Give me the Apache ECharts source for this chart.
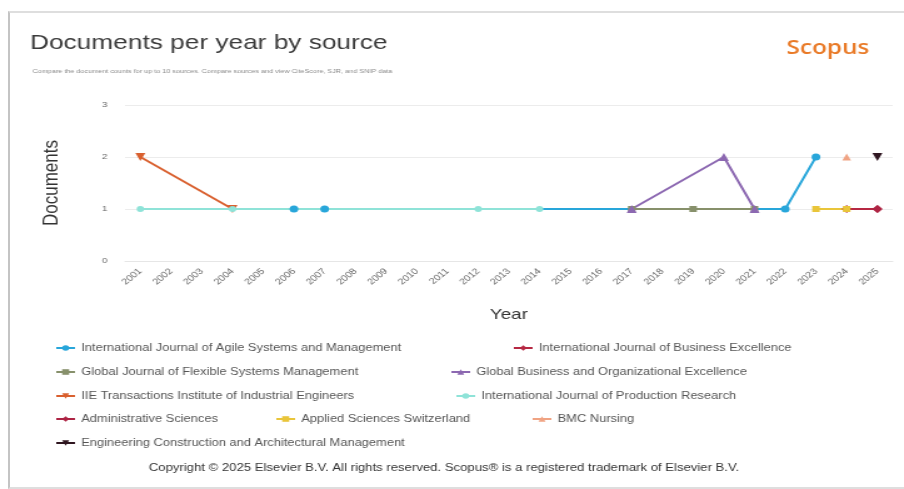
<!DOCTYPE html>
<html>
<head>
<meta charset="utf-8">
<script src="https://cdn.jsdelivr.net/npm/echarts@6/dist/echarts.min.js"></script>
<style>
  html, body { margin: 0; padding: 0; background: #ffffff; overflow: hidden; }
  #frame {
    position: absolute; left: 8px; top: 11px; width: 1000px; height: 474px;
    border-left: 2px solid #c4c4c4; border-top: 2px solid #dedede; border-bottom: 2px solid #dedede;
  }
  #chart {
    position: absolute; left: 0; top: 0; width: 723px; height: 489px;
    transform: scaleX(1.2503); transform-origin: 0 0;
  }
</style>
</head>
<body>
<div id="frame"></div>
<div id="chart"></div>
<script>
// Publication years on the category axis
const years = ['2001', '2002', '2003', '2004', '2005', '2006', '2007', '2008', '2009', '2010',
  '2011', '2012', '2013', '2014', '2015', '2016', '2017', '2018', '2019', '2020',
  '2021', '2022', '2023', '2024', '2025'];
const yTicks = [0, 1, 2, 3];

const _ = null;
// Documents per year for each source (null = no documents that year)
const agileSystems        = [_, _, _, _, _, 1, 1, _, _, _, _, _, _, _, _, _, _, _, _, _, _, 1, 2, _, _];
const businessExcellence  = [_, _, _, _, _, _, _, _, _, _, _, _, _, _, _, _, _, _, _, _, _, _, _, 1, 1];
const flexibleSystems     = [_, _, _, _, _, _, _, _, _, _, _, _, _, _, _, _, 1, _, 1, _, 1, _, _, _, _];
const orgExcellence       = [_, _, _, _, _, _, _, _, _, _, _, _, _, _, _, _, 1, _, _, 2, 1, _, _, _, _];
const iieTransactions     = [2, _, _, 1, _, _, _, _, _, _, _, _, _, _, _, _, _, _, _, _, _, _, _, _, _];
const productionResearch  = [1, _, _, 1, _, _, _, _, _, _, _, 1, _, 1, _, _, _, _, _, _, _, _, _, _, _];
const adminSciences       = [_, _, _, _, _, _, _, _, _, _, _, _, _, _, _, _, _, _, _, _, _, _, _, _, 1];
const appliedSciences     = [_, _, _, _, _, _, _, _, _, _, _, _, _, _, _, _, _, _, _, _, _, _, 1, 1, _];
const bmcNursing          = [_, _, _, _, _, _, _, _, _, _, _, _, _, _, _, _, _, _, _, _, _, _, _, 2, _];
const engConstruction     = [_, _, _, _, _, _, _, _, _, _, _, _, _, _, _, _, _, _, _, _, _, _, _, _, 2];

const sourceNames = [
  'International Journal of Agile Systems and Management',
  'International Journal of Business Excellence',
  'Global Journal of Flexible Systems Management',
  'Global Business and Organizational Excellence',
  'IIE Transactions Institute of Industrial Engineers',
  'International Journal of Production Research',
  'Administrative Sciences',
  'Applied Sciences Switzerland',
  'BMC Nursing',
  'Engineering Construction and Architectural Management'
];
const sourceValues = [agileSystems, businessExcellence, flexibleSystems, orgExcellence, iieTransactions,
  productionResearch, adminSciences, appliedSciences, bmcNursing, engConstruction];

// Line / marker styling per source
const colors  = ['#28a6da', '#b62843', '#87906b', '#8c68b1', '#d9602f',
                 '#8fe3d8', '#ad2444', '#e9c53a', '#f0a383', '#2f1620'];
const symbols = ['circle', 'diamond', 'rect', 'triangle', 'path://M0,0 L10,0 L5,9 Z',
                 'circle', 'diamond', 'rect', 'triangle', 'path://M0,0 L10,0 L5,9 Z'];
const symbolSizes = [7, 8, 6, 8, 8, 6, 8, 6, 7, 8];

// Legend placement (left, top) for each entry
const legendPos = [
  [44, 343], [410, 343],
  [44, 367], [360, 367],
  [44, 391], [364, 391],
  [44, 414], [220, 414], [425, 414],
  [44, 438]
];

const font = 'Liberation Sans, Arial, sans-serif';

const series = sourceNames.map((name, i) => ({
  name: name,
  type: 'line',
  data: sourceValues[i],
  connectNulls: true,
  symbol: symbols[i],
  symbolSize: symbolSizes[i],
  showSymbol: true,
  color: colors[i],
  lineStyle: { width: 2, color: colors[i] },
  itemStyle: { color: colors[i] },
  emphasis: { disabled: true },
  animation: false
}));

const legends = sourceNames.map((name, i) => ({
  data: [name],
  left: legendPos[i][0],
  top: legendPos[i][1],
  padding: 0,
  itemWidth: 15,
  itemHeight: 7,
  itemGap: 4,
  textStyle: { fontSize: 10.3, color: '#555', fontFamily: font }
}));

const chart = echarts.init(document.getElementById('chart'), null, { renderer: 'canvas' });
chart.setOption({
  backgroundColor: 'transparent',
  animation: false,
  title: [
    {
      text: 'Documents per year by source',
      left: 19, top: 28,
      textStyle: { fontSize: 21, fontWeight: 'normal', color: '#3b3b3b', fontFamily: font }
    },
    {
      text: 'Compare the document counts for up to 10 sources. Compare sources and view CiteScore, SJR, and SNIP data',
      left: 21, top: 63,
      textStyle: { fontSize: 5.8, fontWeight: 'normal', color: '#8a8a8a', fontFamily: font }
    },
    {
      text: 'Scopus',
      left: 624, top: 33,
      textStyle: { fontSize: 19.5, fontWeight: 600, color: '#e97a27', fontFamily: 'Open Sans, sans-serif' }
    },
    {
      text: 'Copyright © 2025 Elsevier B.V. All rights reserved. Scopus® is a registered trademark of Elsevier B.V.',
      left: 114, top: 458,
      textStyle: { fontSize: 10.5, fontWeight: 'normal', color: '#333', fontFamily: font }
    }
  ],
  legend: legends,
  grid: { left: 100, right: 9, top: 105, bottom: 228, containLabel: false },
  xAxis: {
    type: 'category',
    data: years,
    boundaryGap: true,
    name: 'Year',
    nameLocation: 'middle',
    nameGap: 46,
    nameTextStyle: { fontSize: 15, color: '#333', fontFamily: font },
    axisLine: { show: true, lineStyle: { color: '#e6e6e6' } },
    axisTick: { show: false },
    axisLabel: { rotate: 45, interval: 0, fontSize: 8.5, color: '#666', margin: 9, fontFamily: font },
    splitLine: { show: false }
  },
  yAxis: {
    type: 'value',
    min: yTicks[0],
    max: yTicks[yTicks.length - 1],
    interval: 1,
    name: 'Documents',
    nameLocation: 'middle',
    nameGap: 50,
    nameRotate: 90,
    nameTextStyle: { fontSize: 17, color: '#333', fontFamily: font },
    axisLine: { show: false },
    axisTick: { show: false },
    axisLabel: { fontSize: 8, color: '#666', margin: 14, fontFamily: font },
    splitLine: { lineStyle: { color: '#ececec', width: 1 } }
  },
  series: series
});
</script>
</body>
</html>
